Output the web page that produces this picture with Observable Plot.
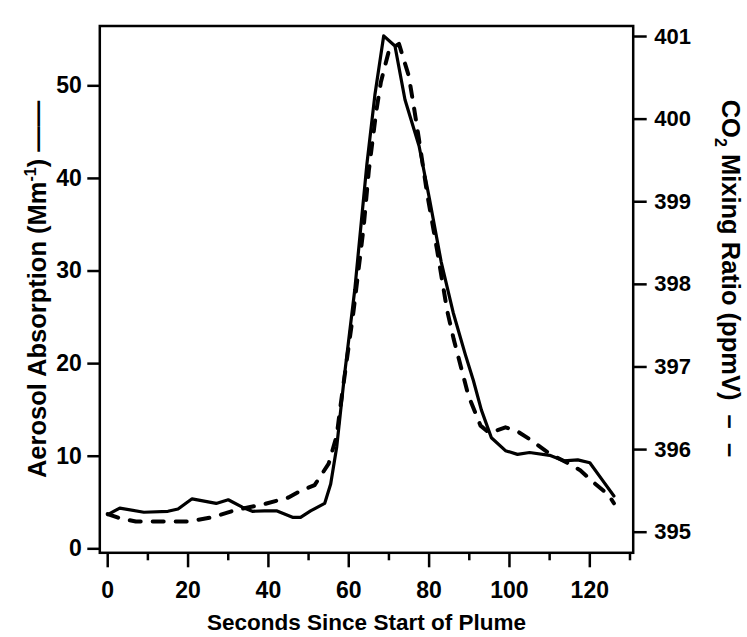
<!DOCTYPE html>
<html>
<head>
<meta charset="utf-8">
<script src="https://cdn.jsdelivr.net/npm/d3@7"></script>
<script src="https://cdn.jsdelivr.net/npm/@observablehq/plot@0.6"></script>
<style>
  html, body { margin: 0; padding: 0; background: #fff; }
  #chart { width: 747px; height: 637px; }
</style>
</head>
<body>
<div id="chart"></div>
<script>
// Aerosol absorption (solid, left axis)
const timeAerosol = [0, 3, 9, 15, 17.5, 21, 27, 30, 33.5, 36, 39, 42, 46, 48, 50.5, 54, 55.5, 57, 59, 61.5, 64.5, 66.5, 68.7, 71.5, 74, 77.5, 80, 83, 86, 89, 91, 93, 95.5, 99, 102, 105, 110, 113.5, 117, 120, 123, 126];
const aerosol = [3.7, 4.4, 3.95, 4.05, 4.3, 5.4, 4.9, 5.3, 4.5, 4.05, 4.1, 4.1, 3.4, 3.4, 4.1, 4.9, 7.0, 11.0, 19, 28, 41.5, 49, 55.4, 54.3, 48.5, 43.5, 38, 31, 25.5, 21, 18.2, 15, 12, 10.6, 10.2, 10.4, 10.1, 9.5, 9.6, 9.3, 7.5, 5.7];

// CO2 mixing ratio (dashed, right axis)
const timeCO2 = [0, 3, 7, 14, 20, 26, 32, 39, 45, 48, 51.5, 55, 57, 58, 61.2, 63.7, 65, 66.8, 68, 70, 72.5, 74.9, 76.2, 77.4, 79.5, 82, 84.5, 86.1, 89.8, 92.8, 95, 99, 102, 105.2, 110, 114, 117.6, 121, 124.7, 126];
const co2 = [395.22, 395.17, 395.13, 395.13, 395.13, 395.18, 395.27, 395.34, 395.42, 395.5, 395.57, 395.83, 396.17, 396.55, 397.68, 398.69, 399.38, 400.08, 400.45, 400.83, 400.91, 400.53, 400.15, 399.78, 399.1, 398.41, 397.68, 397.34, 396.65, 396.29, 396.2, 396.27, 396.22, 396.12, 395.95, 395.85, 395.75, 395.6, 395.45, 395.35];

// Ticks
const xTicksMajor = [0, 20, 40, 60, 80, 100, 120];
const xTicksMinor = [10, 30, 50, 70, 90, 110, 130];
const yTicksLeft = [0, 10, 20, 30, 40, 50];
const yTicksRight = [395, 396, 397, 398, 399, 400, 401];

// Labels
const xTitle = "Seconds Since Start of Plume";
const yLeftTitle = "Aerosol Absorption (Mm-1)\u00a0——";
const yRightTitle = "CO2 Mixing Ratio (ppmV)\u00a0\u00a0–\u00a0\u00a0–";

// map CO2 (right axis) into the left-axis units
const co2ToLeft = d3.scaleLinear().domain([395, 401]).range([1.795, 55.325]);

const aerosolData = timeAerosol.map((t, i) => ({t, v: aerosol[i]}));
const co2Data = timeCO2.map((t, i) => ({t, c: co2[i]}));

const font = "'Liberation Sans', Arial, Helvetica, sans-serif";

const chart = Plot.plot({
  width: 747,
  height: 637,
  marginLeft: 99.3,
  marginRight: 114.3,
  marginTop: 25.5,
  marginBottom: 84.7,
  style: {fontFamily: font, fontWeight: "bold", color: "black", background: "white", overflow: "visible"},
  x: {domain: [-1.97, 130.8]},
  y: {domain: [-0.43, 56.46]},
  marks: [
    Plot.axisY(yTicksLeft, {anchor: "left", tickSize: 12, tickPadding: 6, strokeWidth: 2.5, fontSize: 23, fontWeight: "bold", label: null}),
    Plot.axisY(yTicksRight.map(co2ToLeft), {anchor: "right", tickSize: 13, tickPadding: 8, strokeWidth: 2.5, fontSize: 22, fontWeight: "bold", label: null,
      tickFormat: d => String(Math.round(co2ToLeft.invert(d)))}),
    Plot.axisX(xTicksMajor, {anchor: "bottom", tickSize: 15, tickPadding: 14, strokeWidth: 2.5, fontSize: 23, fontWeight: "bold", label: null}),
    Plot.axisX(xTicksMinor, {anchor: "bottom", tickSize: 8, strokeWidth: 2.5, tickFormat: () => "", label: null}),
    Plot.frame({stroke: "black", strokeWidth: 2.5}),
    Plot.line(co2Data, {x: "t", y: d => co2ToLeft(d.c), stroke: "black", strokeWidth: 4, strokeDasharray: "11,12"}),
    Plot.line(aerosolData, {x: "t", y: "v", stroke: "black", strokeWidth: 3.2}),
    Plot.text([xTitle], {frameAnchor: "bottom", dy: 70, textAnchor: "middle", lineAnchor: "middle", fontSize: 22.5, fontWeight: "bold"}),
    Plot.text([yLeftTitle], {frameAnchor: "left", dx: -62, rotate: -90, textAnchor: "middle", lineAnchor: "middle", fontSize: 25.5, fontWeight: "bold"}),
    Plot.text([yRightTitle], {frameAnchor: "right", dx: 97, dy: -11, rotate: 90, textAnchor: "middle", lineAnchor: "middle", fontSize: 25.5, fontWeight: "bold"})
  ]
});

// superscript / subscript formatting of axis titles
d3.select(chart).selectAll("text").each(function() {
  const el = d3.select(this);
  const txt = this.textContent;
  if (txt === yLeftTitle) {
    el.text(null);
    el.append("tspan").text("Aerosol Absorption (Mm");
    el.append("tspan").attr("dy", -10).attr("font-size", 16).text("-1");
    el.append("tspan").attr("dy", 10).text(")\u00a0——");
  } else if (txt === yRightTitle) {
    el.text(null);
    el.append("tspan").text("CO");
    el.append("tspan").attr("dy", 7).attr("font-size", 16).text("2");
    el.append("tspan").attr("dy", -7).text(" Mixing Ratio (ppmV)\u00a0\u00a0–\u00a0\u00a0–");
  }
});

document.getElementById("chart").appendChild(chart);
</script>
</body>
</html>
